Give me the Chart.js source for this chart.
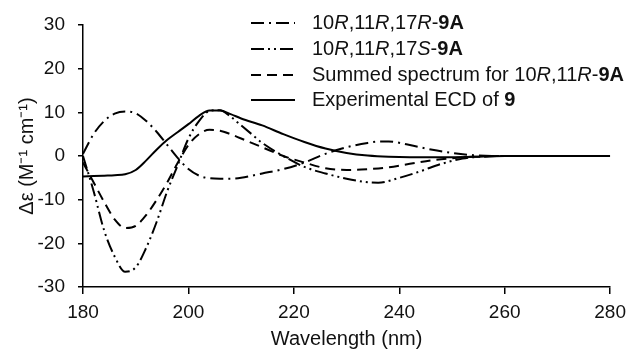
<!DOCTYPE html>
<html>
<head>
<meta charset="utf-8">
<script src="https://cdn.jsdelivr.net/npm/chart.js@4/dist/chart.umd.min.js"></script>
<style>
  html, body { margin: 0; padding: 0; background: #fff; }
  #wrap { width: 633px; height: 352px; }
</style>
</head>
<body>
<div id="wrap"><canvas id="c"></canvas></div>
<script>
// wavelengths (nm) and delta-epsilon values
const wl17R = [180,182,184,186,188,190,192,194,196,198,200,202,204,206,208,210,214,218,222,226,230,234,236,238,242,246,250,254,260,280];
const de17R = [0.5,5,8,9.7,10.2,9.8,8,5.5,2.5,-0.5,-3,-4.5,-5.1,-5.2,-5.2,-5,-4,-3,-1.5,0.5,2,3,3.3,3.3,2.5,1.5,0.7,0.2,0,0];

const wl17S = [180,182,184,186,188,190,192,194,196,198,200,202,204,206,208,210,212,214,218,222,226,230,234,236,240,244,248,252,256,260,280];
const de17S = [0,-8,-17,-23,-26.5,-25.5,-21,-15,-8,-2,4,8,10.3,10.5,9,7,5,3,0,-2.5,-4,-5.2,-6,-6.1,-5,-3.5,-1.8,-0.6,-0.1,0,0];

const wlSum = [180,182,184,186,188,190,192,194,196,198,200,202,204,206,208,210,214,218,222,226,230,234,238,242,246,250,254,260,280];
const deSum = [-1.5,-6,-10.5,-14.5,-16.5,-16,-13.5,-10,-6,-1.5,2.5,5,6,5.8,5,4,2,0,-1.5,-2.8,-3.2,-3,-2.6,-1.8,-1,-0.5,-0.2,0,0];

const wlExp = [180,182,184,186,188,190,192,194,196,198,200,202,204,206,208,210,214,218,222,226,230,234,238,242,246,250,256,260,280];
const deExp = [-4.7,-4.6,-4.5,-4.4,-4.2,-3.2,-1,1.5,3.7,5.5,7.3,9.2,10.4,10.4,9.6,8.6,7,5,3.2,1.7,0.7,0.1,-0.2,-0.3,-0.3,-0.3,-0.1,0,0];

const xTicks = [180,200,220,240,260,280];
const yTicks = [-30,-20,-10,0,10,20,30];

const FONT = "'Liberation Sans', Arial, sans-serif";

function pts(xs, ys) {
  return xs.map((x, i) => ({ x: x, y: ys[i] }));
}

const dashes = [
  [13, 5, 2, 5],
  [13, 4, 2, 4, 2, 4],
  [10, 6],
  []
];

const legendRows = [
  [["10", ""], ["R", "italic "], [",11", ""], ["R", "italic "], [",17", ""], ["R", "italic "], ["-", ""], ["9A", "bold "]],
  [["10", ""], ["R", "italic "], [",11", ""], ["R", "italic "], [",17", ""], ["S", "italic "], ["-", ""], ["9A", "bold "]],
  [["Summed spectrum for 10", ""], ["R", "italic "], [",11", ""], ["R", "italic "], ["-", ""], ["9A", "bold "]],
  [["Experimental ECD of ", ""], ["9", "bold "]]
];

const legendPlugin = {
  id: "richLegend",
  afterDraw(chart) {
    const ctx = chart.ctx;
    ctx.save();
    const rowY = [23, 49, 75, 100];
    legendRows.forEach((row, i) => {
      const y = rowY[i];
      ctx.strokeStyle = "#000";
      ctx.lineWidth = 2;
      ctx.setLineDash(dashes[i]);
      ctx.beginPath();
      ctx.moveTo(251, y);
      ctx.lineTo(295, y);
      ctx.stroke();
      ctx.setLineDash([]);
      let x = 312;
      ctx.fillStyle = "#111";
      ctx.textBaseline = "middle";
      row.forEach(([t, st]) => {
        ctx.font = st + "20px " + FONT;
        ctx.fillText(t, x, y);
        x += ctx.measureText(t).width;
      });
    });
    ctx.restore();
  }
};

const sets = [
  { label: "10R,11R,17R-9A", data: pts(wl17R, de17R) },
  { label: "10R,11R,17S-9A", data: pts(wl17S, de17S) },
  { label: "Summed spectrum for 10R,11R-9A", data: pts(wlSum, deSum) },
  { label: "Experimental ECD of 9", data: pts(wlExp, deExp) }
].map((d, i) => Object.assign(d, {
  borderColor: "#000",
  borderWidth: 2,
  borderDash: dashes[i],
  pointRadius: 0,
  fill: false,
  cubicInterpolationMode: "monotone"
}));

new Chart(document.getElementById("c"), {
  type: "line",
  data: { datasets: sets },
  options: {
    responsive: true,
    maintainAspectRatio: false,
    animation: false,
    layout: { padding: { top: 25, right: 20, bottom: 1, left: 0 } },
    plugins: { legend: { display: false }, tooltip: { enabled: false } },
    scales: {
      x: {
        type: "linear",
        min: 180,
        max: 280,
        afterBuildTicks(axis) { axis.ticks = xTicks.map(v => ({ value: v })); },
        afterFit(axis) { axis.height = 64; },
        grid: { display: true, drawOnChartArea: false, drawTicks: true, tickLength: 7, color: "#000", lineWidth: 1.5 },
        border: { color: "#000", width: 1.5 },
        ticks: { color: "#111", font: { family: FONT, size: 19 }, padding: 7, maxRotation: 0 },
        title: { display: true, text: "Wavelength (nm)", color: "#111", font: { family: FONT, size: 20 }, padding: { top: 2, bottom: 0 } }
      },
      y: {
        min: -30,
        max: 30,
        afterBuildTicks(axis) { axis.ticks = yTicks.map(v => ({ value: v })); },
        afterFit(axis) { axis.width = 83; },
        grid: { display: true, drawOnChartArea: false, drawTicks: true, tickLength: 5, color: "#000", lineWidth: 1.5 },
        border: { color: "#000", width: 1.5 },
        ticks: { color: "#111", font: { family: FONT, size: 19 }, padding: 13 },
        title: { display: true, text: "\u0394\u03B5 (M\u207B\u00B9 cm\u207B\u00B9)", color: "#111", font: { family: FONT, size: 20 }, padding: { top: 15, bottom: 0 } }
      }
    }
  },
  plugins: [legendPlugin]
});
</script>
</body>
</html>
